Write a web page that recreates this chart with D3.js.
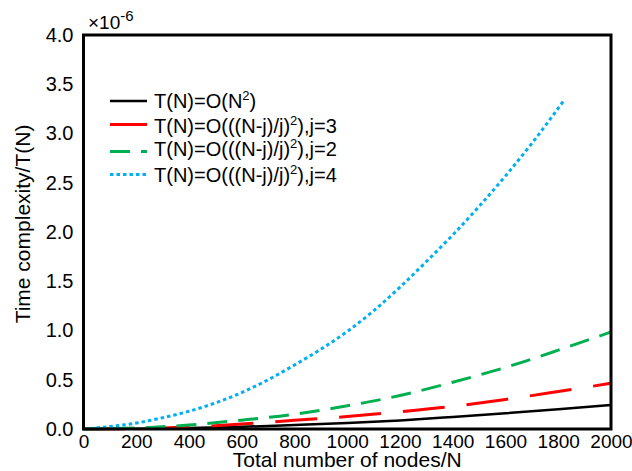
<!DOCTYPE html>
<html>
<head>
	<meta charset="utf-8">
	<title></title>
	<script src="https://d3js.org/d3.v7.min.js"></script>
	<style>
		body{
			margin:0;
			background:#fff;
		}
		text{
			font-family:Arial, "Liberation Sans", sans-serif;
			fill:#000;
		}
	</style>
</head>
<body>
	<svg width='632' height='471'></svg>
</body>
<script>
	// values in units of 1e-6
	var nodes = [0, 200, 400, 600, 800, 1000, 1200, 1400, 1600, 1800, 2000];
	var blackVals = [0, 0.003, 0.01, 0.022, 0.04, 0.06, 0.087, 0.122, 0.16, 0.2, 0.243];
	var redVals = [0, 0.005, 0.02, 0.05, 0.088, 0.127, 0.175, 0.23, 0.3, 0.38, 0.464];
	var greenVals = [0, 0.01, 0.04, 0.09, 0.15, 0.235, 0.34, 0.475, 0.625, 0.8, 0.985];
	var blueNodes = [0, 100, 200, 300, 400, 500, 600, 700, 800, 900, 1000, 1100, 1200, 1300, 1400, 1500, 1600, 1700, 1820];
	var blueVals = [0, 0.025, 0.06, 0.115, 0.18, 0.265, 0.37, 0.5, 0.65, 0.81, 0.99, 1.2, 1.44, 1.7, 1.97, 2.26, 2.57, 2.9, 3.33];
	var xTicks = [0, 200, 400, 600, 800, 1000, 1200, 1400, 1600, 1800, 2000];
	var yTicks = [0, 0.5, 1.0, 1.5, 2.0, 2.5, 3.0, 3.5, 4.0];
	var legendNames = ['T(N)=O(N', 'T(N)=O(((N-j)/j)', 'T(N)=O(((N-j)/j)', 'T(N)=O(((N-j)/j)'];
	var legendTails = [')', '),j=3', '),j=2', '),j=4'];

	var series = [
		{x: nodes, y: blackVals, color: '#000000', width: 2.5, dash: null},
		{x: nodes, y: redVals, color: '#ff0000', width: 3, dash: '42,22'},
		{x: nodes, y: greenVals, color: '#00b050', width: 3, dash: '20,11'},
		{x: blueNodes, y: blueVals, color: '#00b0f0', width: 3, dash: '3.5,3'}
	];

	var svg = d3.select('svg');
	var plotL = 83.5, plotR = 611, plotT = 35, plotB = 429;

	var x = d3.scaleLinear().domain([0, 2000]).range([plotL, plotR]);
	var y = d3.scaleLinear().domain([0, 4]).range([plotB, plotT]);

	var line = d3.line()
		.x(function(d){ return x(d[0]); })
		.y(function(d){ return y(d[1]); })
		.curve(d3.curveMonotoneX);

	// curves
	series.forEach(function(s){
		var pts = s.x.map(function(v, i){ return [v, s.y[i]]; });
		svg.append('path')
			.datum(pts)
			.attr('d', line)
			.attr('fill', 'none')
			.attr('stroke', s.color)
			.attr('stroke-width', s.width)
			.attr('stroke-dasharray', s.dash);
	});

	// frame
	svg.append('rect')
		.attr('x', plotL)
		.attr('y', plotT)
		.attr('width', plotR - plotL)
		.attr('height', plotB - plotT)
		.attr('fill', 'none')
		.attr('stroke', '#000')
		.attr('stroke-width', 3);

	// y axis labels
	var yAxis = d3.axisLeft(y).tickValues(yTicks).tickSize(0).tickPadding(10)
		.tickFormat(d3.format('.1f'));
	var gy = svg.append('g').attr('transform', 'translate(' + plotL + ',0)').call(yAxis);
	gy.select('.domain').remove();
	gy.selectAll('text').style('font-size', '20px').style('font-family', 'Arial, "Liberation Sans", sans-serif');

	// x axis labels
	var xAxis = d3.axisBottom(x).tickValues(xTicks).tickSize(0).tickPadding(6)
		.tickFormat(d3.format('d'));
	var gx = svg.append('g').attr('transform', 'translate(0,' + plotB + ')').call(xAxis);
	gx.select('.domain').remove();
	gx.selectAll('text').style('font-size', '19px').style('font-family', 'Arial, "Liberation Sans", sans-serif');

	// multiplier
	var mult = svg.append('text')
		.attr('x', 88)
		.attr('y', 29)
		.style('font-size', '19px')
		.text('×10');
	mult.append('tspan')
		.attr('dy', -8)
		.style('font-size', '15px')
		.text('-6');

	// axis titles
	svg.append('text')
		.attr('x', (plotL + plotR) / 2)
		.attr('y', 467)
		.attr('text-anchor', 'middle')
		.style('font-size', '21px')
		.text('Total number of nodes/N');

	svg.append('text')
		.attr('transform', 'translate(30,' + ((plotT + plotB) / 2 - 8) + ') rotate(-90)')
		.attr('text-anchor', 'middle')
		.style('font-size', '21px')
		.text('Time complexity/T(N)');

	// legend
	var lineY = [101, 124.5, 151.5, 174.5];
	var textY = [107.5, 132.5, 155.5, 181.5];
	series.forEach(function(s, i){
		svg.append('line')
			.attr('x1', 110)
			.attr('x2', 147)
			.attr('y1', lineY[i])
			.attr('y2', lineY[i])
			.attr('stroke', s.color)
			.attr('stroke-width', s.width)
			.attr('stroke-dasharray', s.dash);
		var t = svg.append('text')
			.attr('x', 154)
			.attr('y', textY[i])
			.style('font-size', '20px')
			.text(legendNames[i]);
		t.append('tspan')
			.attr('dy', -8)
			.style('font-size', '13px')
			.text('2');
		t.append('tspan')
			.attr('dy', 8)
			.text(legendTails[i]);
	});
</script>
</html>
